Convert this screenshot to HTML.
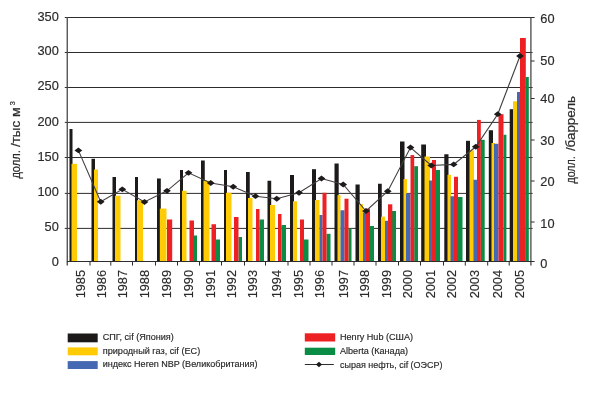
<!DOCTYPE html>
<html lang="ru"><head><meta charset="utf-8"><title>Цены на газ</title>
<style>
html,body{margin:0;padding:0;background:#fff}
body{width:600px;height:400px;overflow:hidden}
svg{display:block}
svg text{font-family:"Liberation Sans",sans-serif;fill:#2b2a2a}
.t{font-size:12.8px;stroke:#2b2a2a;stroke-width:0.15px}
.l{font-size:8.3px;fill:#232020;stroke:#232020;stroke-width:0.15px}
.a{font-size:12px;stroke:#2b2a2a;stroke-width:0.2px}
</style></head><body>
<svg width="600" height="400" viewBox="0 0 600 400">
<rect width="600" height="400" fill="#fff"/>
<g stroke="#2e2c2c" stroke-width="1" fill="none">
<line x1="64.8" y1="17.5" x2="532.6" y2="17.5"/>
<line x1="64.8" y1="52.5" x2="532.6" y2="52.5"/>
<line x1="64.8" y1="87.5" x2="532.6" y2="87.5"/>
<line x1="64.8" y1="122.4" x2="532.6" y2="122.4"/>
<line x1="64.8" y1="157.5" x2="532.6" y2="157.5"/>
<line x1="64.8" y1="193.4" x2="532.6" y2="193.4"/>
<line x1="64.8" y1="228.4" x2="532.6" y2="228.4"/>
</g>
<g fill="#1d1a1a">
<rect x="69.50" y="129.00" width="3.00" height="133.00"/>
<rect x="91.50" y="158.80" width="3.50" height="103.20"/>
<rect x="112.50" y="177.00" width="3.50" height="85.00"/>
<rect x="135.00" y="177.00" width="3.00" height="85.00"/>
<rect x="157.00" y="178.50" width="3.80" height="83.50"/>
<rect x="180.00" y="170.00" width="3.00" height="92.00"/>
<rect x="201.00" y="160.50" width="3.75" height="101.50"/>
<rect x="224.00" y="170.00" width="3.00" height="92.00"/>
<rect x="246.00" y="172.00" width="3.75" height="90.00"/>
<rect x="267.50" y="180.75" width="3.70" height="81.25"/>
<rect x="290.00" y="175.00" width="4.00" height="87.00"/>
<rect x="312.00" y="169.20" width="4.00" height="92.80"/>
<rect x="334.50" y="163.50" width="4.20" height="98.50"/>
<rect x="355.50" y="184.50" width="4.20" height="77.50"/>
<rect x="378.00" y="183.75" width="3.75" height="78.25"/>
<rect x="400.00" y="141.50" width="4.50" height="120.50"/>
<rect x="421.20" y="144.50" width="4.80" height="117.50"/>
<rect x="444.30" y="154.25" width="4.20" height="107.75"/>
<rect x="466.00" y="140.80" width="4.00" height="121.20"/>
<rect x="488.80" y="130.25" width="4.20" height="131.75"/>
<rect x="509.70" y="109.20" width="3.80" height="152.80"/>
</g>
<g fill="#ffcb05">
<rect x="71.50" y="163.80" width="5.50" height="98.20"/>
<rect x="94.00" y="169.50" width="4.00" height="92.50"/>
<rect x="115.00" y="195.75" width="5.50" height="66.25"/>
<rect x="137.00" y="200.25" width="6.00" height="61.75"/>
<rect x="159.80" y="208.60" width="6.70" height="53.40"/>
<rect x="182.00" y="190.80" width="4.50" height="71.20"/>
<rect x="203.50" y="180.75" width="6.00" height="81.25"/>
<rect x="226.00" y="192.75" width="5.50" height="69.25"/>
<rect x="248.00" y="198.00" width="4.50" height="64.00"/>
<rect x="270.00" y="205.00" width="5.00" height="57.00"/>
<rect x="293.00" y="201.30" width="4.00" height="60.70"/>
<rect x="315.00" y="200.00" width="4.50" height="62.00"/>
<rect x="337.50" y="195.10" width="3.00" height="66.90"/>
<rect x="359.00" y="204.10" width="4.00" height="57.90"/>
<rect x="381.00" y="216.70" width="4.00" height="45.30"/>
<rect x="403.50" y="179.10" width="3.50" height="82.90"/>
<rect x="424.50" y="156.50" width="5.50" height="105.50"/>
<rect x="447.50" y="174.80" width="3.50" height="87.20"/>
<rect x="469.50" y="150.50" width="4.50" height="111.50"/>
<rect x="491.50" y="143.00" width="3.50" height="119.00"/>
<rect x="513.00" y="101.30" width="4.00" height="160.70"/>
</g>
<g fill="#4468b1">
<rect x="319.50" y="215.00" width="3.00" height="47.00"/>
<rect x="340.50" y="210.25" width="4.00" height="51.75"/>
<rect x="363.00" y="212.50" width="3.00" height="49.50"/>
<rect x="385.00" y="220.75" width="3.00" height="41.25"/>
<rect x="406.00" y="193.30" width="4.50" height="68.70"/>
<rect x="429.00" y="180.50" width="3.00" height="81.50"/>
<rect x="450.50" y="196.25" width="3.50" height="65.75"/>
<rect x="473.50" y="179.75" width="3.50" height="82.25"/>
<rect x="494.00" y="143.75" width="4.50" height="118.25"/>
<rect x="517.00" y="92.00" width="3.00" height="170.00"/>
</g>
<g fill="#0b8c45">
<rect x="193.50" y="235.50" width="3.50" height="26.50"/>
<rect x="216.00" y="239.50" width="4.00" height="22.50"/>
<rect x="238.50" y="237.00" width="3.50" height="25.00"/>
<rect x="259.50" y="219.50" width="4.50" height="42.50"/>
<rect x="281.50" y="225.00" width="4.50" height="37.00"/>
<rect x="304.00" y="239.50" width="4.50" height="22.50"/>
<rect x="326.50" y="233.80" width="4.00" height="28.20"/>
<rect x="348.50" y="228.30" width="3.00" height="33.70"/>
<rect x="370.00" y="226.00" width="4.00" height="36.00"/>
<rect x="392.00" y="211.00" width="4.00" height="51.00"/>
<rect x="414.20" y="166.20" width="3.80" height="95.80"/>
<rect x="436.00" y="170.00" width="4.00" height="92.00"/>
<rect x="458.00" y="197.00" width="4.50" height="65.00"/>
<rect x="480.60" y="139.80" width="4.10" height="122.20"/>
<rect x="503.50" y="134.75" width="2.90" height="127.25"/>
<rect x="525.60" y="77.00" width="3.20" height="185.00"/>
</g>
<g fill="#ed2024">
<rect x="167.00" y="219.50" width="5.20" height="42.50"/>
<rect x="189.50" y="220.50" width="4.50" height="41.50"/>
<rect x="211.50" y="224.25" width="4.50" height="37.75"/>
<rect x="234.00" y="217.00" width="4.50" height="45.00"/>
<rect x="256.00" y="209.00" width="3.50" height="53.00"/>
<rect x="278.00" y="214.00" width="3.50" height="48.00"/>
<rect x="300.00" y="219.50" width="4.00" height="42.50"/>
<rect x="322.50" y="192.75" width="4.00" height="69.25"/>
<rect x="344.50" y="198.70" width="4.00" height="63.30"/>
<rect x="366.00" y="208.75" width="4.00" height="53.25"/>
<rect x="388.00" y="204.30" width="4.30" height="57.70"/>
<rect x="410.50" y="155.10" width="3.70" height="106.90"/>
<rect x="432.00" y="160.00" width="4.00" height="102.00"/>
<rect x="454.00" y="176.75" width="4.00" height="85.25"/>
<rect x="477.00" y="119.90" width="3.80" height="142.10"/>
<rect x="498.50" y="114.20" width="5.00" height="147.80"/>
<rect x="520.00" y="38.00" width="5.80" height="224.00"/>
</g>
<g stroke="#4a4848" stroke-width="1.3" fill="none">
<line x1="67.25" y1="17" x2="67.25" y2="265.6"/>
<line x1="530.9" y1="17" x2="530.9" y2="265.6"/>
</g>
<g stroke="#2e2c2c" stroke-width="1" fill="none">
<line x1="66.9" y1="261.5" x2="531.5" y2="261.5"/>
<line x1="90" y1="261.5" x2="90" y2="265.6"/>
<line x1="110.8" y1="261.5" x2="110.8" y2="265.6"/>
<line x1="132.5" y1="261.5" x2="132.5" y2="265.6"/>
<line x1="155.5" y1="261.5" x2="155.5" y2="265.6"/>
<line x1="177.5" y1="261.5" x2="177.5" y2="265.6"/>
<line x1="199.5" y1="261.5" x2="199.5" y2="265.6"/>
<line x1="221.5" y1="261.5" x2="221.5" y2="265.6"/>
<line x1="244.5" y1="261.5" x2="244.5" y2="265.6"/>
<line x1="265.5" y1="261.5" x2="265.5" y2="265.6"/>
<line x1="288" y1="261.5" x2="288" y2="265.6"/>
<line x1="310" y1="261.5" x2="310" y2="265.6"/>
<line x1="332" y1="261.5" x2="332" y2="265.6"/>
<line x1="354" y1="261.5" x2="354" y2="265.6"/>
<line x1="376" y1="261.5" x2="376" y2="265.6"/>
<line x1="398.5" y1="261.5" x2="398.5" y2="265.6"/>
<line x1="420.5" y1="261.5" x2="420.5" y2="265.6"/>
<line x1="443.5" y1="261.5" x2="443.5" y2="265.6"/>
<line x1="465.3" y1="261.5" x2="465.3" y2="265.6"/>
<line x1="487.7" y1="261.5" x2="487.7" y2="265.6"/>
<line x1="509.2" y1="261.5" x2="509.2" y2="265.6"/>
<line x1="531" y1="17.50" x2="534.6" y2="17.50"/>
<line x1="531" y1="61.00" x2="534.6" y2="61.00"/>
<line x1="531" y1="98.50" x2="534.6" y2="98.50"/>
<line x1="531" y1="140.00" x2="534.6" y2="140.00"/>
<line x1="531" y1="181.00" x2="534.6" y2="181.00"/>
<line x1="531" y1="222.00" x2="534.6" y2="222.00"/>
<line x1="531" y1="261.50" x2="534.6" y2="261.50"/>
</g>
<polyline points="78.40,150.40 100.70,201.75 122.30,189.30 144.50,202.00 167.00,190.80 188.50,172.80 210.75,183.00 233.25,186.75 255.50,196.20 276.75,198.75 299.00,192.75 321.50,178.50 343.20,184.50 366.00,211.00 387.75,191.25 410.50,147.50 431.30,165.50 453.70,164.40 475.80,146.75 497.75,114.20 520.00,56.00" fill="none" stroke="#403e3e" stroke-width="1.1"/>
<g fill="#1d1a1a">
<path d="M74.50 150.40L78.40 147.50L82.30 150.40L78.40 153.30Z"/>
<path d="M96.80 201.75L100.70 198.85L104.60 201.75L100.70 204.65Z"/>
<path d="M118.40 189.30L122.30 186.40L126.20 189.30L122.30 192.20Z"/>
<path d="M140.60 202.00L144.50 199.10L148.40 202.00L144.50 204.90Z"/>
<path d="M163.10 190.80L167.00 187.90L170.90 190.80L167.00 193.70Z"/>
<path d="M184.60 172.80L188.50 169.90L192.40 172.80L188.50 175.70Z"/>
<path d="M206.85 183.00L210.75 180.10L214.65 183.00L210.75 185.90Z"/>
<path d="M229.35 186.75L233.25 183.85L237.15 186.75L233.25 189.65Z"/>
<path d="M251.60 196.20L255.50 193.30L259.40 196.20L255.50 199.10Z"/>
<path d="M272.85 198.75L276.75 195.85L280.65 198.75L276.75 201.65Z"/>
<path d="M295.10 192.75L299.00 189.85L302.90 192.75L299.00 195.65Z"/>
<path d="M317.60 178.50L321.50 175.60L325.40 178.50L321.50 181.40Z"/>
<path d="M339.30 184.50L343.20 181.60L347.10 184.50L343.20 187.40Z"/>
<path d="M362.10 211.00L366.00 208.10L369.90 211.00L366.00 213.90Z"/>
<path d="M383.85 191.25L387.75 188.35L391.65 191.25L387.75 194.15Z"/>
<path d="M406.60 147.50L410.50 144.60L414.40 147.50L410.50 150.40Z"/>
<path d="M427.40 165.50L431.30 162.60L435.20 165.50L431.30 168.40Z"/>
<path d="M449.80 164.40L453.70 161.50L457.60 164.40L453.70 167.30Z"/>
<path d="M471.90 146.75L475.80 143.85L479.70 146.75L475.80 149.65Z"/>
<path d="M493.85 114.20L497.75 111.30L501.65 114.20L497.75 117.10Z"/>
<path d="M516.10 56.00L520.00 53.10L523.90 56.00L520.00 58.90Z"/>
</g>
<g class="t" text-anchor="end">
<text x="58.8" y="21.10">350</text>
<text x="58.8" y="55.10">300</text>
<text x="58.8" y="90.10">250</text>
<text x="58.8" y="125.60">200</text>
<text x="58.8" y="160.60">150</text>
<text x="58.8" y="196.10">100</text>
<text x="58.8" y="231.10">50</text>
<text x="58.8" y="266.10">0</text>
</g>
<g class="t" text-anchor="start">
<text x="540.3" y="22.60">60</text>
<text x="540.3" y="64.50">50</text>
<text x="540.3" y="102.90">40</text>
<text x="540.3" y="144.80">30</text>
<text x="540.3" y="186.30">20</text>
<text x="540.3" y="227.85">10</text>
<text x="540.3" y="267.75">0</text>
</g>
<g class="t" text-anchor="end">
<text transform="translate(84.55 269.9) rotate(-90)">1985</text>
<text transform="translate(105.55 269.9) rotate(-90)">1986</text>
<text transform="translate(127.30 269.9) rotate(-90)">1987</text>
<text transform="translate(149.40 269.9) rotate(-90)">1988</text>
<text transform="translate(170.55 269.9) rotate(-90)">1989</text>
<text transform="translate(192.70 269.9) rotate(-90)">1990</text>
<text transform="translate(215.10 269.9) rotate(-90)">1991</text>
<text transform="translate(236.30 269.9) rotate(-90)">1992</text>
<text transform="translate(257.40 269.9) rotate(-90)">1993</text>
<text transform="translate(281.40 269.9) rotate(-90)">1994</text>
<text transform="translate(302.70 269.9) rotate(-90)">1995</text>
<text transform="translate(323.90 269.9) rotate(-90)">1996</text>
<text transform="translate(347.90 269.9) rotate(-90)">1997</text>
<text transform="translate(369.30 269.9) rotate(-90)">1998</text>
<text transform="translate(390.55 269.9) rotate(-90)">1999</text>
<text transform="translate(412.20 269.9) rotate(-90)">2000</text>
<text transform="translate(434.70 269.9) rotate(-90)">2001</text>
<text transform="translate(456.40 269.9) rotate(-90)">2002</text>
<text transform="translate(479.05 269.9) rotate(-90)">2003</text>
<text transform="translate(502.30 269.9) rotate(-90)">2004</text>
<text transform="translate(523.80 269.9) rotate(-90)">2005</text>
</g>
<g class="a">
<text transform="translate(20 178.6) rotate(-90)" textLength="28.3" lengthAdjust="spacingAndGlyphs">долл.</text>
<text transform="translate(20 147.1) rotate(-90)" textLength="26.3" lengthAdjust="spacingAndGlyphs">/тыс</text>
<text transform="translate(20 116.9) rotate(-90)" textLength="9.8" lengthAdjust="spacingAndGlyphs">м</text>
<text transform="translate(14.6 105.3) rotate(-90)" style="font-size:7.3px">3</text>
<text transform="translate(575 183.6) rotate(-90)" textLength="27.4" lengthAdjust="spacingAndGlyphs">долл.</text>
<text transform="translate(575 151.1) rotate(-90)" textLength="55.2" lengthAdjust="spacingAndGlyphs">/баррель</text>
</g>
<g>
<rect x="67.7" y="333.5" width="30" height="8.8" fill="#1d1a1a"/>
<rect x="67.7" y="347.4" width="30" height="7.9" fill="#ffcb05"/>
<rect x="67.7" y="361.1" width="30" height="7.9" fill="#4468b1"/>
<rect x="304.8" y="333.3" width="30.4" height="8.2" fill="#ed2024"/>
<rect x="304.8" y="347.7" width="30.4" height="7.3" fill="#0b8c45"/>
<line x1="304.8" y1="364.5" x2="333.8" y2="364.5" stroke="#2e2c2c" stroke-width="1"/>
<path d="M315.9 364.5L319 361.8L322.1 364.5L319 367.2Z" fill="#1d1a1a"/>
</g>
<g class="l">
<text x="102.7" y="340.3" textLength="71" lengthAdjust="spacingAndGlyphs">СПГ, cif (Япония)</text>
<text x="102.7" y="353.7" textLength="97.5" lengthAdjust="spacingAndGlyphs">природный газ, cif (ЕС)</text>
<text x="102.7" y="367.4" textLength="154.8" lengthAdjust="spacingAndGlyphs">индекс Heren NBP (Великобритания)</text>
<text x="340" y="340.3" textLength="73" lengthAdjust="spacingAndGlyphs">Henry Hub (США)</text>
<text x="340" y="354" textLength="68" lengthAdjust="spacingAndGlyphs">Alberta (Канада)</text>
<text x="340" y="367.7" textLength="102.5" lengthAdjust="spacingAndGlyphs">сырая нефть, cif (ОЭСР)</text>
</g>
</svg>
</body></html>
